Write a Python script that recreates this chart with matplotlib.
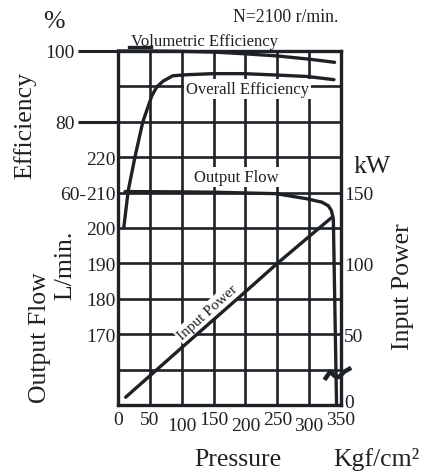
import numpy as np
import matplotlib
matplotlib.use("Agg")
import matplotlib.pyplot as plt
import matplotlib.transforms as mtransforms

plt.rcParams["font.family"] = ["Liberation Serif", "DejaVu Serif"]

# axis ticks
pressure_ticks = [0, 50, 100, 150, 200, 250, 300, 350]
pressure_low = [100, 200, 300]          # labels set one row lower
flow_grid = list(range(150, 251, 10))
flow_ticks = [170, 180, 190, 200, 210, 220]
eff_ticks = [80, 100]
power_ticks = [0, 50, 100, 150]

# curves (pressure in Kgf/cm2)
vol_p = [0, 50, 100, 150, 200, 250, 300, 340]
vol_eff = [100, 100, 99.9, 99.7, 99.2, 98.6, 97.7, 96.8]

overall_p = [9, 16, 27, 39, 53, 61, 71, 86, 108, 149, 198, 250, 297, 339]
overall_eff = [50, 60.5, 70.4, 80, 87.3, 89.9, 91.5, 93, 93.3, 93.6, 93.6, 93.2, 92.8, 91.9]

flow_p = [11, 100, 154, 200, 248, 295, 320, 330, 335, 338, 343]
flow_lpm = [210.3, 210.2, 210.1, 209.9, 209.7, 208.3, 207.3, 206.3, 204.9, 202.5, 150]

power_p = [12, 100, 200, 250, 300, 337]
power_kw = [5.5, 40.5, 80, 100, 119, 133]

# small marks in the drawing
vol_flag_p = [17, 52]
vol_flag_eff = [101.1, 101.1]
break_p = [326, 333, 340, 347, 355, 363]
break_lpm = [157.6, 159.4, 158.2, 157.9, 159.4, 160.2]

INK = "#1e2226"


def eff_to_flow(e):
    return np.asarray(e, dtype=float) + 150


def flow_to_eff(f):
    return np.asarray(f, dtype=float) - 150


def kw_to_flow(k):
    return 150 + 0.4 * np.asarray(k, dtype=float)


def flow_to_kw(f):
    return (np.asarray(f, dtype=float) - 150) / 0.4


fig = plt.figure(figsize=(4.32, 4.77), dpi=100)
ax = fig.add_axes([118 / 432, 1 - 406 / 477, 223 / 432, 354 / 477])
ax.set_xlim(0, 350)
ax.set_ylim(150, 250)

ax.set_yticks(flow_grid)
ax.set_yticklabels([str(v) if v in flow_ticks else "" for v in flow_grid])
ax.set_xticks(pressure_ticks)
ax.set_xticklabels([str(v) for v in pressure_ticks])
ax.grid(True, color=INK, lw=1.9)
ax.set_axisbelow(True)
for s in ax.spines.values():
    s.set_linewidth(2.4)
    s.set_color(INK)
ax.tick_params(length=0, labelsize=14, colors=INK, pad=2)
ax.tick_params(axis="x", pad=4)
for v, t in zip(pressure_ticks, ax.xaxis.get_major_ticks()):
    if v in pressure_low:
        t.set_pad(9)

# efficiency scale on the left
sec_eff = ax.secondary_yaxis("left", functions=(flow_to_eff, eff_to_flow))
sec_eff.set_yticks(eff_ticks)
sec_eff.tick_params(length=29, width=2.2, color=INK, labelcolor=INK, labelsize=14, pad=2)
sec_60 = ax.secondary_yaxis("left", functions=(flow_to_eff, eff_to_flow))
sec_60.set_yticks([60])
sec_60.set_yticklabels(["60-"])
sec_60.tick_params(length=0, labelcolor=INK, labelsize=14, pad=23)
# power scale on the right
sec_kw = ax.secondary_yaxis("right", functions=(flow_to_kw, kw_to_flow))
sec_kw.set_yticks(power_ticks)
sec_kw.tick_params(length=0, labelcolor=INK, labelsize=14, pad=2)
for sec in (sec_eff, sec_60, sec_kw):
    for s in sec.spines.values():
        s.set_visible(False)
# lift the "0" kW label a little off the bottom line
lift = mtransforms.ScaledTranslation(0, 4 / 100, fig.dpi_scale_trans)
for v, t in zip(power_ticks, sec_kw.yaxis.get_major_ticks()):
    if v == 0:
        for lab in (t.label1, t.label2):
            lab.set_transform(lab.get_transform() + lift)

kw = dict(color=INK, lw=2.4, zorder=4, clip_on=False, solid_capstyle="round")
ax.plot(vol_p, eff_to_flow(vol_eff), **kw)
ax.plot(overall_p, eff_to_flow(overall_eff), **kw)
ax.plot(flow_p, flow_lpm, **kw)
ax.plot(power_p, kw_to_flow(power_kw), **kw)
ax.plot(vol_flag_p, eff_to_flow(vol_flag_eff), color=INK, lw=2.4, clip_on=False, zorder=4)
ax.plot(break_p, break_lpm, color=INK, lw=3.2, clip_on=False, zorder=5)

box = dict(fc="white", ec="none", pad=1.5)
ax.text(135, eff_to_flow(102.8), "Volumetric Efficiency", ha="center", va="center",
        fontsize=12, color=INK)
ax.text(204, eff_to_flow(89.3), "Overall Efficiency", ha="center", va="center",
        fontsize=12, color=INK, bbox=box, zorder=3)
ax.text(185, 214.5, "Output Flow", ha="center", va="center",
        fontsize=12, color=INK, bbox=box, zorder=3)
ax.text(141, kw_to_flow(65.5), "Input Power", ha="center", va="center", rotation=42,
        fontsize=11, color=INK, bbox=box, zorder=3)

big = 18.5
fig.text(54 / 432, 1 - 22 / 477, "%", fontsize=big, ha="center", va="center", color=INK)
fig.text(286 / 432, 1 - 17 / 477, "N=2100 r/min.", fontsize=12.8, ha="center", va="center", color=INK)
fig.text(25 / 432, 1 - 126 / 477, "Efficiency", fontsize=big, rotation=90, ha="center", va="center", color=INK)
fig.text(40 / 432, 1 - 338 / 477, "Output Flow", fontsize=big, rotation=90, ha="center", va="center", color=INK)
fig.text(65 / 432, 1 - 265 / 477, "L/min.", fontsize=big, rotation=90, ha="center", va="center", color=INK)
fig.text(372 / 432, 1 - 167 / 477, "kW", fontsize=big, ha="center", va="center", color=INK)
fig.text(403 / 432, 1 - 287 / 477, "Input Power", fontsize=big, rotation=90, ha="center", va="center", color=INK)
fig.text(238 / 432, 1 - 460 / 477, "Pressure", fontsize=big, ha="center", va="center", color=INK)
fig.text(376 / 432, 1 - 460 / 477, "Kgf/cm²", fontsize=big, ha="center", va="center", color=INK)

fig.savefig("out.png", dpi=100)
